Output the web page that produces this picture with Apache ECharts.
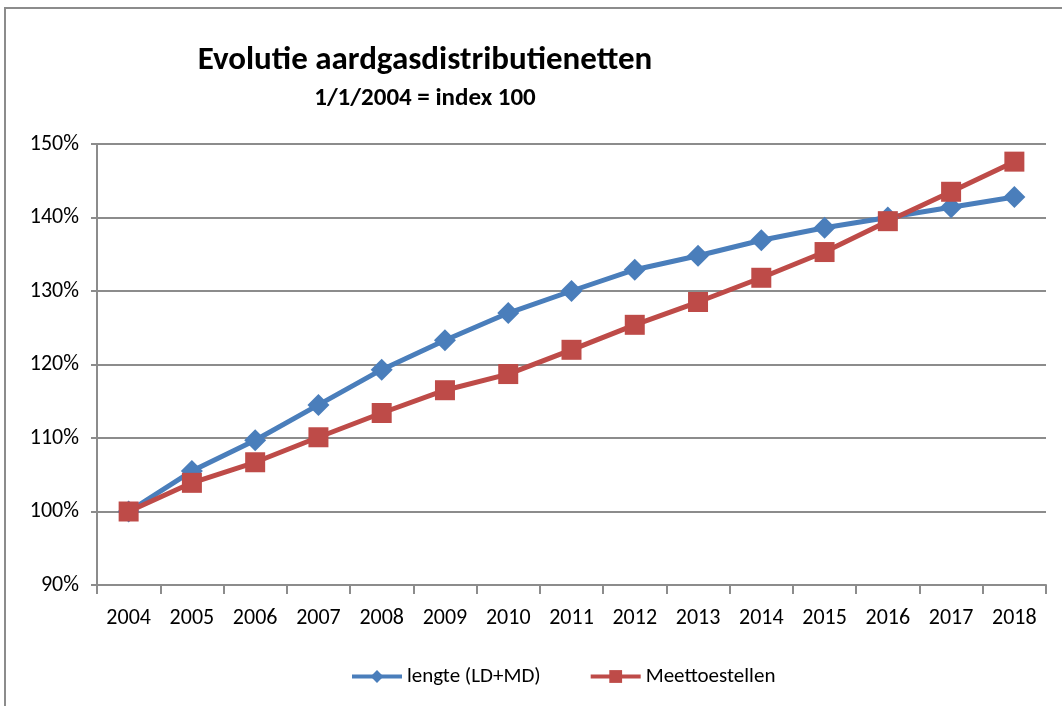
<!DOCTYPE html>
<html>
<head>
<meta charset="utf-8">
<script src="https://cdn.jsdelivr.net/npm/echarts@6/dist/echarts.min.js"></script>
<style>
html,body{margin:0;padding:0;background:#fff;}
#chart{position:absolute;left:4px;top:7px;width:1058px;height:699px;border-left:2px solid #8c8c8c;border-top:2px solid #8c8c8c;box-sizing:border-box;}
</style>
</head>
<body>
<div id="chart"></div>
<script>
var years = ['2004','2005','2006','2007','2008','2009','2010','2011','2012','2013','2014','2015','2016','2017','2018'];
var lengte = [100, 105.5, 109.7, 114.5, 119.3, 123.3, 127.0, 130.0, 132.9, 134.8, 136.9, 138.6, 140.0, 141.4, 142.8];
var meettoestellen = [100, 103.9, 106.7, 110.1, 113.4, 116.5, 118.7, 122.0, 125.4, 128.5, 131.8, 135.3, 139.5, 143.5, 147.6];

var font = 'Carlito, "Liberation Sans Narrow", "DejaVu Sans Condensed", sans-serif';
var chart = echarts.init(document.getElementById('chart'));
chart.setOption({
    animation: false,
    textStyle: {fontFamily: font},
    title: [
        {text: 'Evolutie aardgasdistributienetten', left: 414, top: 30, textAlign: 'center',
         textStyle: {fontSize: 33, fontWeight: 'bold', color: '#000', fontFamily: font}},
        {text: '1/1/2004 = index 100', left: 414, top: 72, textAlign: 'center',
         textStyle: {fontSize: 25, fontWeight: 'bold', color: '#000', fontFamily: font}}
    ],
    legend: {
        bottom: 14,
        left: 339,
        itemWidth: 50,
        itemHeight: 16,
        itemGap: 48,
        lineStyle: {width: 4},
        textStyle: {fontSize: 21, color: '#000', fontFamily: font},
        data: ['lengte (LD+MD)', 'Meettoestellen']
    },
    grid: {left: 91, right: 16, top: 135, bottom: 121},
    xAxis: {
        type: 'category',
        data: years,
        boundaryGap: true,
        axisLine: {lineStyle: {color: '#8c8c8c', width: 2}},
        axisTick: {show: true, length: 9, lineStyle: {color: '#8c8c8c', width: 2}},
        axisLabel: {fontSize: 22, color: '#000', margin: 22}
    },
    yAxis: {
        type: 'value',
        min: 90,
        max: 150,
        interval: 10,
        axisLine: {show: true, lineStyle: {color: '#8c8c8c', width: 2}},
        axisTick: {show: true, length: 6, lineStyle: {color: '#8c8c8c', width: 2}},
        axisLabel: {fontSize: 22, color: '#000', margin: 18, formatter: '{value}%'},
        splitLine: {lineStyle: {color: '#8c8c8c', width: 2}}
    },
    series: [
        {
            name: 'lengte (LD+MD)',
            type: 'line',
            data: lengte,
            symbol: 'diamond',
            symbolSize: 22,
            lineStyle: {color: '#4a7ebb', width: 5},
            itemStyle: {color: '#4a7ebb'}
        },
        {
            name: 'Meettoestellen',
            type: 'line',
            data: meettoestellen,
            symbol: 'rect',
            symbolSize: 20,
            lineStyle: {color: '#be4b48', width: 5},
            itemStyle: {color: '#be4b48'}
        }
    ]
});
</script>
</body>
</html>
